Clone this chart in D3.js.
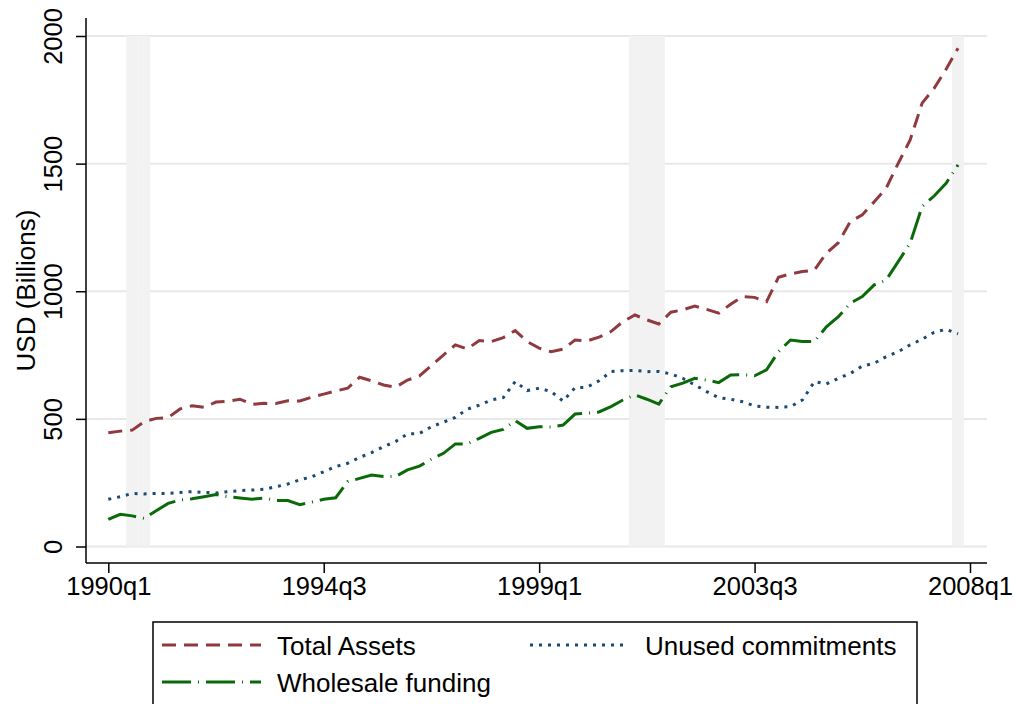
<!DOCTYPE html>
<html>
<head>
<meta charset="utf-8">
<script src="https://cdn.jsdelivr.net/npm/d3@7"></script>
<style>
	body { margin: 0; background: #fff; }
	text { font-family: Arial, "Liberation Sans", sans-serif; fill: #000; }
</style>
</head>
<body>
<div class="container"></div>
<script>
"use strict";

// quarters 1990q1 .. 2007q4, index 0 = 1990q1
const xTickIndex = [0, 18, 36, 54, 72]
const xTickLabels = ['1990q1', '1994q3', '1999q1', '2003q3', '2008q1']
const yTicks = [0, 500, 1000, 1500, 2000]

// recession quarters (shaded bars)
const recessionQuarters = [2, 3, 44, 45, 46, 71]

const totalAssets = [
	446, 452, 456, 489, 502, 505, 539, 551, 545, 566, 569, 577,
	557, 561, 560, 571, 570, 585, 597, 609, 620, 663, 649, 633,
	624, 652, 668, 709, 750, 790, 774, 807, 803, 818, 846, 803,
	777, 763, 773, 809, 805, 820, 842, 881, 907, 888, 872, 918,
	927, 942, 929, 914, 949, 979, 976, 959, 1055, 1068, 1077, 1083,
	1149, 1190, 1273, 1299, 1351, 1404, 1501, 1593, 1737, 1795, 1870, 1952
]

const unusedCommitments = [
	185, 195, 208, 206, 208, 208, 212, 215, 212, 210, 215, 219,
	221, 224, 234, 245, 261, 273, 293, 313, 326, 349, 368, 391,
	411, 441, 443, 469, 487, 506, 538, 554, 574, 583, 646, 611,
	620, 607, 570, 622, 624, 649, 685, 689, 690, 685, 686, 676,
	659, 633, 607, 583, 577, 567, 551, 546, 545, 548, 574, 646,
	637, 659, 678, 707, 718, 744, 763, 790, 812, 839, 851, 833
]

const wholesaleFunding = [
	106, 126, 120, 110, 140, 169, 182, 187, 195, 204, 195, 190,
	185, 190, 180, 180, 164, 174, 185, 191, 254, 267, 280, 274,
	274, 300, 315, 342, 365, 402, 402, 424, 447, 459, 493, 463,
	469, 468, 476, 519, 522, 527, 548, 574, 594, 577, 558, 626,
	640, 659, 652, 642, 672, 673, 669, 692, 763, 809, 803, 803,
	861, 900, 953, 979, 1025, 1044, 1116, 1188, 1332, 1373, 1423, 1495
]

const seriesNames = ['Total Assets', 'Unused commitments', 'Wholesale funding']

//the p(properties) of the svg
const p = {
	svgWidth: 1016,
	svgHeight: 704,
	plotLeft: 86,
	plotRight: 987,
	plotTop: 18,
	plotBottom: 563,
	xStart: 108.3, //pixel of 1990q1
	xEnd: 970, //pixel of 2008q1
	yZero: 546.5,
	yTop: 36,
	tickSize: 10,
	fontTick: 25.5,
	fontLegend: 26
}

// line styles for each series
const styles = [
	{ color: '#903a40', dash: '14,8', width: 3 },
	{ color: '#1b4a72', dash: '3,6', width: 3 },
	{ color: '#0a6a0a', dash: '29,7,1,7', width: 3 }
]

const svg = d3.select('.container')
	.append('svg')
	.attr('width', p.svgWidth)
	.attr('height', p.svgHeight)

const x = d3.scaleLinear().domain([0, 72]).range([p.xStart, p.xEnd])
const y = d3.scaleLinear().domain([0, 2000]).range([p.yZero, p.yTop])

//gridlines
svg.append('g')
	.selectAll('line')
	.data(yTicks)
	.join('line')
	.attr('x1', p.plotLeft)
	.attr('x2', p.plotRight)
	.attr('y1', d => y(d))
	.attr('y2', d => y(d))
	.attr('stroke', '#e8e8e8')
	.attr('stroke-width', 2)

//recession shading, one bar per quarter
svg.append('g')
	.selectAll('rect')
	.data(recessionQuarters)
	.join('rect')
	.attr('x', d => x(d - 0.5))
	.attr('width', x(1) - x(0))
	.attr('y', y(2000))
	.attr('height', y(0) - y(2000))
	.attr('fill', '#f2f2f2')

//the lines
const line = d3.line()
	.x((d, i) => x(i))
	.y(d => y(d))

const allSeries = [totalAssets, unusedCommitments, wholesaleFunding]
allSeries.forEach(function(data, k) {
	svg.append('path')
		.datum(data)
		.attr('d', line)
		.attr('fill', 'none')
		.attr('stroke', styles[k].color)
		.attr('stroke-width', styles[k].width)
		.attr('stroke-dasharray', styles[k].dash)
})

//axes
const xAxis = svg.append('g')
	.attr('transform', 'translate(0,' + p.plotBottom + ')')
	.call(d3.axisBottom(x)
		.tickValues(xTickIndex)
		.tickFormat((d, i) => xTickLabels[i])
		.tickSize(p.tickSize)
		.tickSizeOuter(0)
		.tickPadding(4))
xAxis.select('.domain').remove()
xAxis.selectAll('line').attr('stroke', '#000').attr('stroke-width', 1.5)
xAxis.selectAll('text').style('font-size', p.fontTick + 'px').attr('fill', '#000')

const yAxis = svg.append('g')
	.attr('transform', 'translate(' + p.plotLeft + ',0)')
	.call(d3.axisLeft(y)
		.tickValues(yTicks)
		.tickFormat(d => String(d))
		.tickSize(p.tickSize)
		.tickSizeOuter(0))
yAxis.select('.domain').remove()
yAxis.selectAll('line').attr('stroke', '#000').attr('stroke-width', 1.5)
yAxis.selectAll('text')
	.style('font-size', p.fontTick + 'px')
	.attr('fill', '#000')
	.attr('text-anchor', 'middle')
	.attr('transform', 'rotate(-90)')
	.attr('x', 0)
	.attr('y', -24)
	.attr('dy', 0)

//axis lines
svg.append('line')
	.attr('x1', p.plotLeft).attr('x2', p.plotLeft)
	.attr('y1', p.plotTop).attr('y2', p.plotBottom)
	.attr('stroke', '#000').attr('stroke-width', 1.5)
svg.append('line')
	.attr('x1', p.plotLeft).attr('x2', p.plotRight)
	.attr('y1', p.plotBottom).attr('y2', p.plotBottom)
	.attr('stroke', '#000').attr('stroke-width', 1.5)

//y title
svg.append('text')
	.attr('transform', 'translate(35,' + (p.plotTop + p.plotBottom) / 2 + ') rotate(-90)')
	.attr('text-anchor', 'middle')
	.style('font-size', p.fontLegend + 'px')
	.text('USD (Billions)')

//legend
const legend = svg.append('g')
legend.append('rect')
	.attr('x', 153)
	.attr('y', 622)
	.attr('width', 764)
	.attr('height', 120)
	.attr('fill', '#fff')
	.attr('stroke', '#000')
	.attr('stroke-width', 1.5)

const legendPos = [
	{ x: 162, y: 645 },
	{ x: 530, y: 645 },
	{ x: 162, y: 682 }
]
seriesNames.forEach(function(name, k) {
	const pos = legendPos[k]
	legend.append('line')
		.attr('x1', pos.x).attr('x2', pos.x + 99)
		.attr('y1', pos.y).attr('y2', pos.y)
		.attr('stroke', styles[k].color)
		.attr('stroke-width', styles[k].width)
		.attr('stroke-dasharray', styles[k].dash)
	legend.append('text')
		.attr('x', pos.x + 115)
		.attr('y', pos.y + 9.5)
		.style('font-size', p.fontLegend + 'px')
		.text(name)
})
</script>
</body>
</html>
